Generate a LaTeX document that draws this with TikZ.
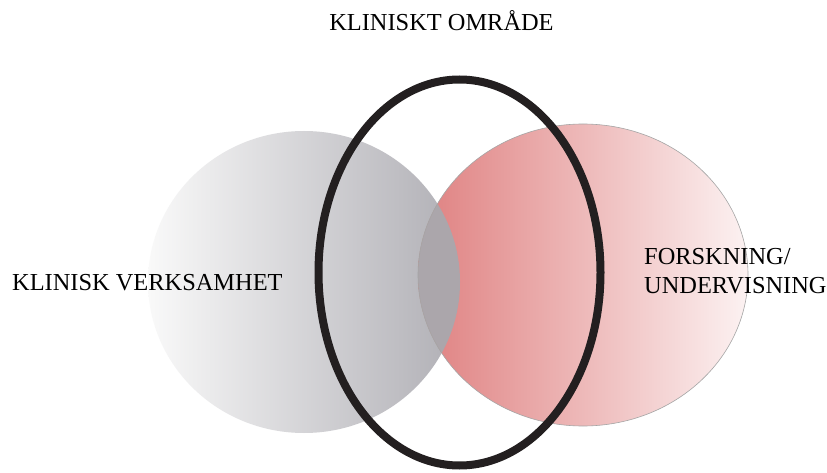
\documentclass[tikz,border=0pt]{standalone}
\usepackage{fontspec}
\setmainfont{Liberation Serif}
\definecolor{grayL}{RGB}{249,249,249}
\definecolor{grayR}{RGB}{176,175,181}
\definecolor{pinkL}{RGB}{223,128,128}
\definecolor{pinkR}{RGB}{252,242,242}
\definecolor{lensC}{RGB}{171,166,171}
\definecolor{ringC}{RGB}{35,31,32}
\definecolor{edgeC}{RGB}{165,165,165}
\tikzset{
  lbl/.style={inner sep=0pt, font=\fontsize{24.4}{28.2}\selectfont, text=black},
  graydisc/.style={left color=grayL, right color=grayR},
  pinkdisc/.style={left color=pinkL, right color=pinkR},
  ring/.style={draw=ringC, line width=8pt},
}
\begin{document}
\begin{tikzpicture}[x=1pt,y=-1pt]
\useasboundingbox (0,0) rectangle (827,473);
\fill[white] (0,0) rectangle (827,473);
% gray disc
\shade[graydisc] (304,282) ellipse [x radius=156, y radius=151];
% pink disc
\shade[pinkdisc] (583,275) ellipse [x radius=165, y radius=151];
% lens
\begin{scope}
  \clip (304,282) ellipse [x radius=156, y radius=151];
  \fill[lensC] (583,275) ellipse [x radius=165, y radius=151];
\end{scope}
\draw[edgeC, line width=0.6pt] (583,275) ellipse [x radius=165, y radius=151];
% black ring
\draw[ring] (459.5,272.5) ellipse [x radius=141, y radius=193];
% labels
\node[lbl, anchor=base] (omr) at (441.5,31) {KLINISKT OMRÅDE};
\node[lbl, anchor=base west] (kv) at (12,290) {KLINISK VERKSAMHET};
\node[lbl, anchor=base west, align=left] (fu) at (644,293) {FORSKNING/\\UNDERVISNING};
\end{tikzpicture}
\end{document}
